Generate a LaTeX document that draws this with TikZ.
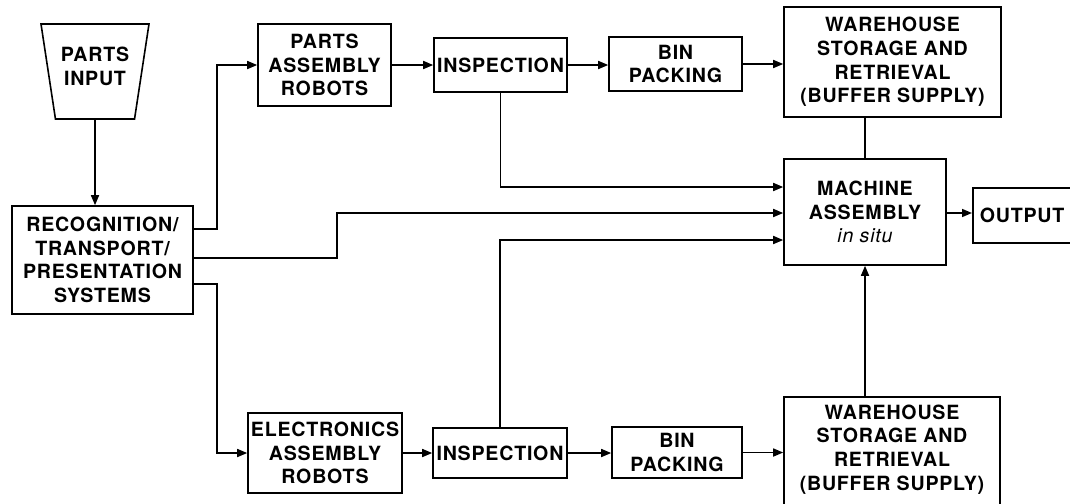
\documentclass[tikz,border=0pt]{standalone}
\usepackage{fontspec}
\setmainfont{TeX Gyre Heros}[LetterSpace=4]
\usetikzlibrary{shapes.geometric,arrows.meta,positioning}

\begin{document}
\begin{tikzpicture}[x=0.5pt,y=-0.5pt,line width=0.8pt,
    every node/.append style={font=\bfseries\fontsize{9.8}{11.8}\selectfont,
                    align=center,inner sep=0pt},
    box/.style={draw,rectangle},
    arr/.style={-{Triangle[length=5pt,width=4pt]}}]
    \useasboundingbox (0,0) rectangle (1070,503);
    \node[draw,trapezium,trapezium angle=73.6,shape border rotate=180,
          trapezium stretches body,minimum width=54pt,minimum height=47.5pt]
          (input) at (95,71.5) {PARTS\\INPUT\\[-6.3pt]\mbox{}};
    \node[box,minimum width=90.5pt,minimum height=54pt] (recog) at (102.5,260)
          {RECOGNITION/\\TRANSPORT/\\PRESENTATION\\SYSTEMS};
    \node[box,minimum width=66.5pt,minimum height=41pt] (robots) at (324.5,65)
          {PARTS\\ASSEMBLY\\ROBOTS};
    \node[box,minimum width=66.5pt,minimum height=27pt] (insp1) at (500.5,65) {INSPECTION};
    \node[box,minimum width=66.5pt,minimum height=27pt] (bin1) at (675.5,64) {BIN\\PACKING};
    \node[box,minimum width=108.5pt,minimum height=55pt] (ware1) at (892.5,62)
          {WAREHOUSE\\STORAGE AND\\RETRIEVAL\\(BUFFER SUPPLY)};
    \node[box,minimum width=81pt,minimum height=53pt] (machine) at (865,212)
          {MACHINE\\ASSEMBLY\\{\mdseries\itshape in situ}};
    \node[box,anchor=west,minimum height=27.5pt,text width=56pt,align=left,
          inner xsep=3.5pt] (output) at (972,215.5) {OUTPUT};
    \node[box,minimum width=77pt,minimum height=40pt] (elec) at (325,453)
          {ELECTRONICS\\ASSEMBLY\\ROBOTS};
    \node[box,minimum width=67pt,minimum height=25pt] (insp2) at (500,453) {INSPECTION};
    \node[box,minimum width=65pt,minimum height=25.5pt] (bin2) at (677,452.5) {BIN\\PACKING};
    \node[box,anchor=north,minimum width=108pt,minimum height=60pt] (ware2) at (892,396)
          {WAREHOUSE\\STORAGE AND\\RETRIEVAL\\(BUFFER SUPPLY)\\[-2.5pt]\mbox{}};

    \draw[arr] (input.south) -- (input.south |- recog.north);
    \draw[arr] (recog.east |- 0,229) -- (217,229) |- (robots.west);
    \draw[arr] (recog.east |- 0,258) -- (337,258) |- (machine.west |- 0,213);
    \draw[arr] (recog.east |- 0,284) -- (217,284) |- (elec.west);
    \draw[arr] (robots.east) -- (insp1.west);
    \draw[arr] (insp1.east) -- (insp1.east -| bin1.west);
    \draw[arr] (bin1.east) -- (bin1.east -| ware1.west);
    \draw[arr] (insp1.south) |- (machine.west |- 0,187);
    \draw[arr] (insp2.north) |- (machine.west |- 0,240);
    \draw (ware1.south -| machine.north) -- (machine.north);
    \draw[arr] (machine.east |- 0,213) -- (output.west |- 0,213);
    \draw[arr] (ware2.north -| machine.south) -- (machine.south);
    \draw[arr] (elec.east |- insp2) -- (insp2.west);
    \draw[arr] (insp2.east) -- (insp2.east -| bin2.west);
    \draw[arr] (bin2.east) -- (bin2.east -| ware2.west);
\end{tikzpicture}
\end{document}
